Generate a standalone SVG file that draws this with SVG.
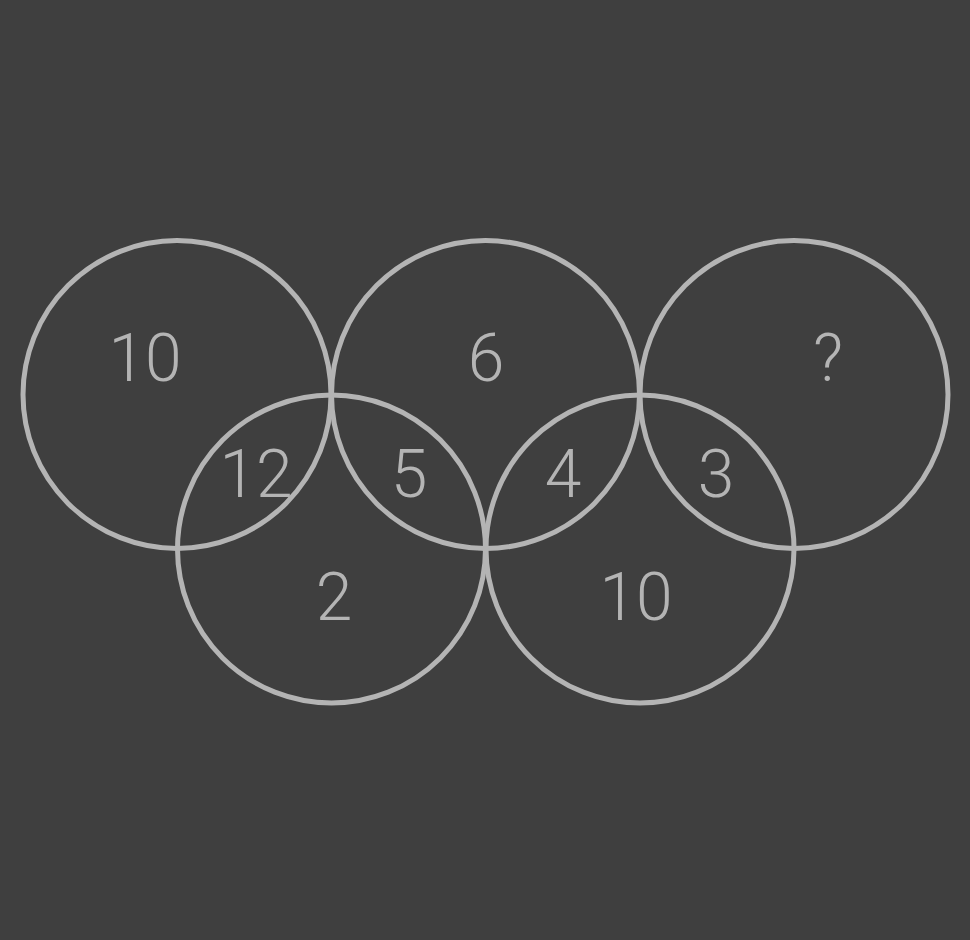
<svg xmlns="http://www.w3.org/2000/svg" width="970" height="940" viewBox="0 0 970 940">
<style>
.ring{fill:none;stroke:#b4b4b4;stroke-width:5}
.num{fill:#b4b4b4;font-family:Roboto,"Liberation Sans",sans-serif;font-weight:300;font-size:66px;text-anchor:middle}
</style>
<rect width="970" height="940" fill="#3f3f3f"/>
<g id="ring1"><circle class="ring" cx="177" cy="394.5" r="154"/></g>
<g id="ring2"><circle class="ring" cx="485.5" cy="394.5" r="154"/></g>
<g id="ring3"><circle class="ring" cx="794" cy="394.5" r="154"/></g>
<g id="ring4"><circle class="ring" cx="331.5" cy="549" r="154"/></g>
<g id="ring5"><circle class="ring" cx="640" cy="549" r="154"/></g>
<g id="labels">
<text class="num" x="145" y="381">10</text>
<text class="num" x="486" y="381">6</text>
<text class="num" x="828" y="381">?</text>
<text class="num" x="256" y="497">12</text>
<text class="num" x="409" y="497">5</text>
<text class="num" x="563" y="497">4</text>
<text class="num" x="716" y="497">3</text>
<text class="num" x="334" y="620">2</text>
<text class="num" x="636" y="620">10</text>
</g>
</svg>
